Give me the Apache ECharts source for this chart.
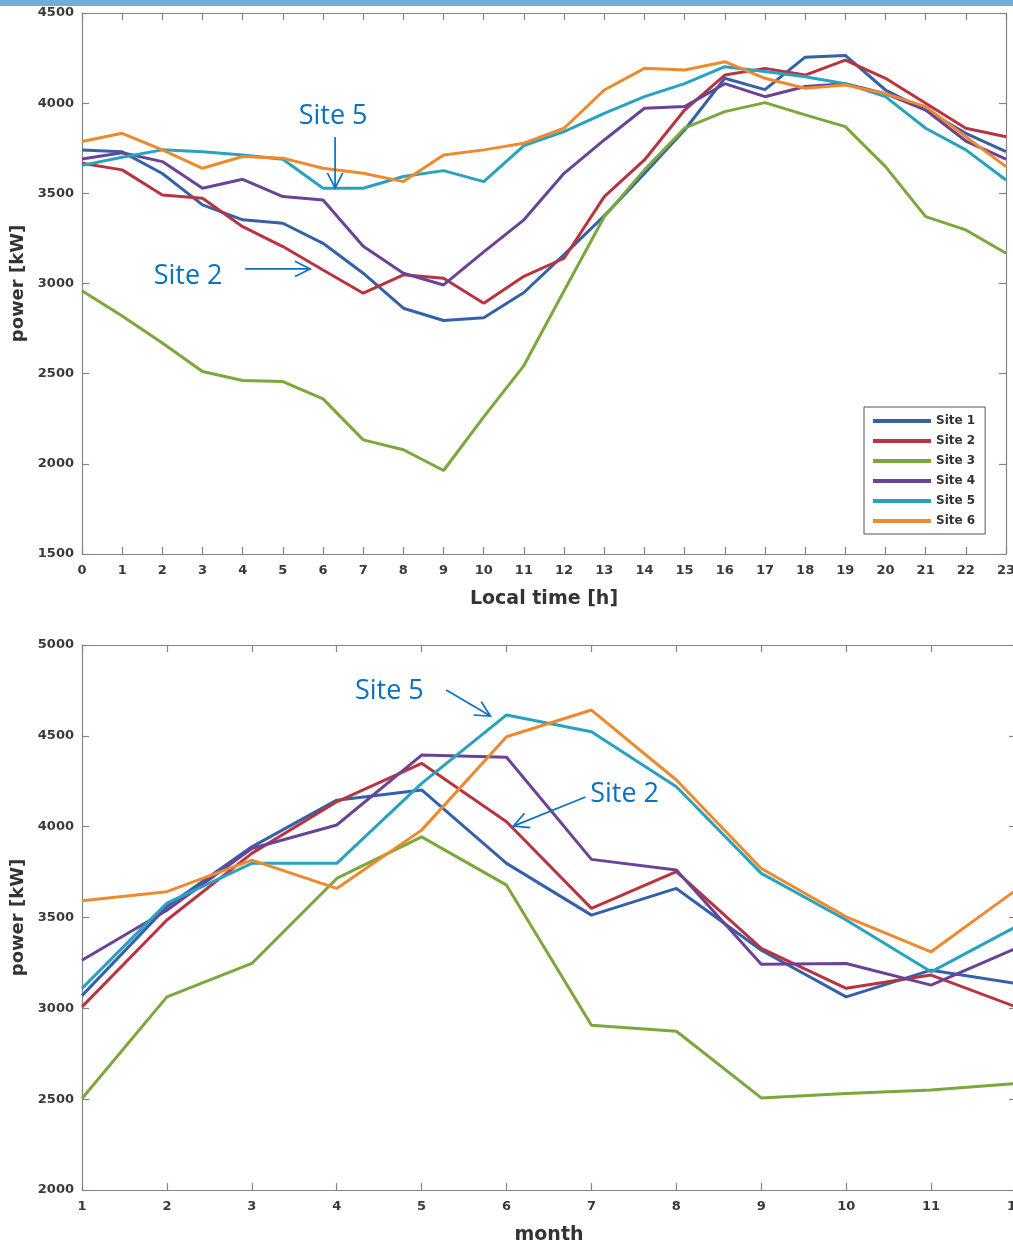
<!DOCTYPE html>
<html>
<head>
<meta charset="utf-8">
<script src="https://cdn.jsdelivr.net/npm/echarts@6/dist/echarts.min.js"></script>
<style>
html,body{margin:0;padding:0;background:#fff;}
#c{width:1013px;height:1245px;}
</style>
</head>
<body>
<div id="c"></div>
<script>
// ---------- data ----------
const siteNames = ['Site 1', 'Site 2', 'Site 3', 'Site 4', 'Site 5', 'Site 6'];
const siteColors = ['#3561a8', '#b8343f', '#7aa83a', '#6b4396', '#27a3c0', '#ee8a2e'];

const hours = [0,1,2,3,4,5,6,7,8,9,10,11,12,13,14,15,16,17,18,19,20,21,22,23];
const dailySite1 = [3740,3730,3610,3436,3353,3334,3223,3057,2863,2795,2810,2950,3160,3375,3610,3851,4138,4075,4255,4265,4073,3962,3833,3731];
const dailySite2 = [3667,3630,3491,3473,3315,3205,3075,2946,3048,3029,2891,3040,3140,3482,3685,3962,4156,4193,4156,4239,4138,3999,3861,3814];
const dailySite3 = [2960,2820,2670,2512,2462,2456,2360,2133,2078,1963,2260,2545,2960,3370,3630,3861,3953,4003,3935,3870,3648,3371,3297,3168];
const dailySite4 = [3690,3725,3676,3528,3578,3482,3463,3206,3057,2992,3175,3353,3611,3796,3972,3981,4108,4036,4092,4108,4053,3962,3790,3690];
const dailySite5 = [3655,3700,3741,3731,3713,3689,3528,3528,3593,3626,3565,3765,3842,3944,4036,4108,4202,4175,4147,4108,4036,3861,3741,3574];
const dailySite6 = [3787,3833,3741,3639,3704,3695,3639,3611,3565,3713,3741,3778,3861,4073,4193,4184,4230,4138,4083,4101,4053,3981,3814,3648];

const months = [1,2,3,4,5,6,7,8,9,10,11,12];
const monthlySite1 = [3070,3560,3889,4146,4202,3798,3513,3660,3320,3063,3210,3137];
const monthlySite2 = [3008,3486,3853,4137,4349,4027,3550,3752,3330,3110,3183,3008];
const monthlySite3 = [2504,3063,3247,3715,3944,3678,2907,2874,2507,2531,2550,2586];
const monthlySite4 = [3265,3540,3880,4009,4394,4382,3820,3761,3242,3247,3128,3330];
const monthlySite5 = [3110,3579,3798,3798,4238,4615,4523,4220,3743,3486,3201,3450];
const monthlySite6 = [3592,3642,3816,3660,3981,4495,4642,4257,3770,3504,3311,3651];

const dailyAxis = {min: 0, max: 23, interval: 1, name: 'Local time [h]'};
const dailyValueAxis = {min: 1500, max: 4500, interval: 500};
const monthlyAxis = {min: 1, max: 12, interval: 1, name: 'month'};
const monthlyValueAxis = {min: 2000, max: 5000, interval: 500};
const yName = 'power [kW]';

// annotations (data coordinates)
const annoTexts = [
  {grid: 0, text: 'Site 5', at: [6.25, 3929]},
  {grid: 0, text: 'Site 2', at: [2.64, 3042]},
  {grid: 1, text: 'Site 5', at: [4.62, 4747]},
  {grid: 1, text: 'Site 2', at: [7.39, 4180]}
];
const annoArrows = [
  {grid: 0, from: [6.3, 3813], to: [6.3, 3530]},
  {grid: 0, from: [4.06, 3081], to: [5.68, 3081]},
  {grid: 1, from: [5.29, 4752], to: [5.81, 4609]},
  {grid: 1, from: [6.93, 4163], to: [6.08, 4003]}
];

// ---------- chart ----------
const dailyData = [dailySite1, dailySite2, dailySite3, dailySite4, dailySite5, dailySite6];
const monthlyData = [monthlySite1, monthlySite2, monthlySite3, monthlySite4, monthlySite5, monthlySite6];

const FONT = 'DejaVu Sans';
const axisColor = '#858585';
const labelStyle = {fontFamily: FONT, fontWeight: 'bold', fontSize: 13, color: '#3a3a3a'};

function xAx(gridIndex, cfg, pos) {
  const main = pos === 'bottom';
  return {
    type: 'value', gridIndex: gridIndex, position: pos,
    min: cfg.min, max: cfg.max, interval: cfg.interval,
    name: main ? cfg.name : '', nameLocation: 'middle', nameGap: 36,
    nameTextStyle: {fontFamily: FONT, fontWeight: 'bold', fontSize: 19, color: '#333'},
    axisLine: {show: true, onZero: false, lineStyle: {color: axisColor, width: 1.2}},
    axisTick: {show: true, inside: true, length: 7, lineStyle: {color: axisColor, width: 1.2}},
    axisLabel: Object.assign({show: main, margin: 10, formatter: function (v) { return String(v); }}, labelStyle),
    splitLine: {show: false}
  };
}
function yAx(gridIndex, cfg, pos) {
  const main = pos === 'left';
  return {
    type: 'value', gridIndex: gridIndex, position: pos,
    min: cfg.min, max: cfg.max, interval: cfg.interval,
    name: main ? yName : '', nameLocation: 'middle', nameGap: 37,
    nameTextStyle: {fontFamily: FONT, fontWeight: 'bold', fontSize: 18, color: '#333'},
    axisLine: {show: true, onZero: false, lineStyle: {color: axisColor, width: 1.2}},
    axisTick: {show: true, inside: true, length: 7, lineStyle: {color: axisColor, width: 1.2}},
    axisLabel: Object.assign({show: main, margin: 8, formatter: function (v) { return String(v); }}, labelStyle),
    splitLine: {show: false}
  };
}

const series = [];
siteNames.forEach(function (name, i) {
  series.push({
    name: name, type: 'line', xAxisIndex: 0, yAxisIndex: 0,
    data: hours.map(function (h, k) { return [h, dailyData[i][k]]; }),
    symbol: 'none', lineStyle: {width: 3, color: siteColors[i]}, itemStyle: {color: siteColors[i]}
  });
});
siteNames.forEach(function (name, i) {
  series.push({
    name: name, type: 'line', xAxisIndex: 2, yAxisIndex: 2,
    data: months.map(function (m, k) { return [m, monthlyData[i][k]]; }),
    symbol: 'none', lineStyle: {width: 3, color: siteColors[i]}, itemStyle: {color: siteColors[i]}
  });
});

const chart = echarts.init(document.getElementById('c'), null, {renderer: 'canvas'});
chart.setOption({
  backgroundColor: '#ffffff',
  animation: false,
  grid: [
    {left: 82, top: 13, width: 924, height: 541, containLabel: false, outerBoundsMode: 'none'},
    {left: 82, top: 645, width: 934, height: 545, containLabel: false, outerBoundsMode: 'none'}
  ],
  xAxis: [xAx(0, dailyAxis, 'bottom'), xAx(0, dailyAxis, 'top'), xAx(1, monthlyAxis, 'bottom'), xAx(1, monthlyAxis, 'top')],
  yAxis: [yAx(0, dailyValueAxis, 'left'), yAx(0, dailyValueAxis, 'right'), yAx(1, monthlyValueAxis, 'left'), yAx(1, monthlyValueAxis, 'right')],
  legend: {
    orient: 'vertical', left: 864, top: 407,
    padding: [7, 10, 6, 9], itemGap: 6, itemWidth: 58, itemHeight: 4, icon: 'rect',
    borderColor: '#555', borderWidth: 1, backgroundColor: '#fff',
    textStyle: {fontFamily: FONT, fontWeight: 'bold', fontSize: 12, color: '#333', lineHeight: 14},
    data: siteNames
  },
  series: series
});

// annotations placed via the axes' own scales
const annoColor = '#0a72c0';
function toPx(grid, pt) {
  const idx = grid === 0 ? 0 : 2;
  return chart.convertToPixel({xAxisIndex: idx, yAxisIndex: idx}, pt);
}
const graphics = [
  {type: 'rect', left: 0, top: 0, shape: {width: 1013, height: 6}, style: {fill: '#6eb0dc'}, z: 100}
];
annoTexts.forEach(function (a) {
  const p = toPx(a.grid, a.at);
  graphics.push({type: 'text', x: p[0], y: p[1], z: 100,
    style: {text: a.text, fill: annoColor, fontFamily: 'Open Sans', fontSize: 27, align: 'center', verticalAlign: 'middle'}});
});
annoArrows.forEach(function (a) {
  const s = toPx(a.grid, a.from), e = toPx(a.grid, a.to);
  graphics.push({type: 'line', z: 100, shape: {x1: s[0], y1: s[1], x2: e[0], y2: e[1]},
    style: {stroke: annoColor, lineWidth: 1.7}});
  const ang = Math.atan2(s[1] - e[1], s[0] - e[0]);
  const L = 17, spread = 27 * Math.PI / 180;
  const h1 = [e[0] + L * Math.cos(ang + spread), e[1] + L * Math.sin(ang + spread)];
  const h2 = [e[0] + L * Math.cos(ang - spread), e[1] + L * Math.sin(ang - spread)];
  graphics.push({type: 'polyline', z: 100, shape: {points: [h1, e, h2]},
    style: {stroke: annoColor, lineWidth: 1.7, fill: null}});
});
chart.setOption({graphic: graphics});
</script>
</body>
</html>
